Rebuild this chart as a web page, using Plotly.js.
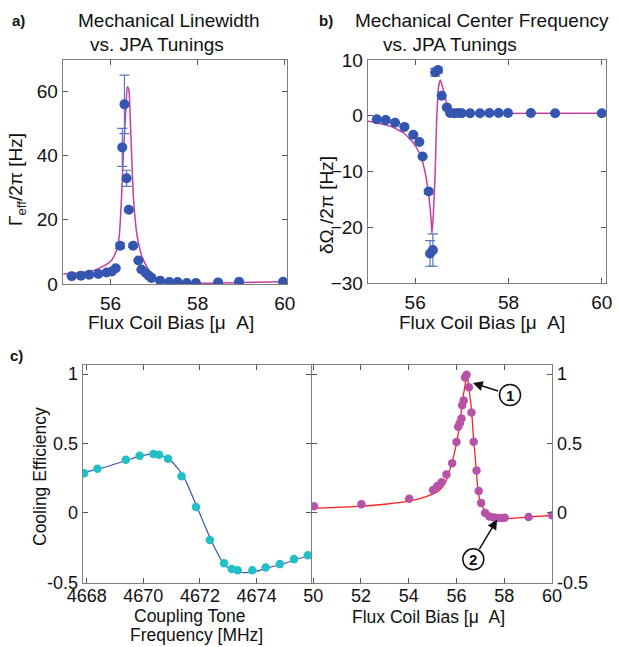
<!DOCTYPE html>
<html><head><meta charset="utf-8">
<script src="https://cdn.plot.ly/plotly-3.0.1.min.js"></script>
<style>html,body{margin:0;padding:0;background:#fff}#plot{width:618px;height:647px}</style>
</head><body><div id="plot"></div>
<script>
// ---- panel a: mechanical linewidth ----
const aX = [55.11,55.32,55.51,55.72,55.91,56.03,56.12,56.22,56.27,56.32,56.37,56.42,56.52,56.64,56.71,56.81,56.88,56.94,57.14,57.35,57.54,57.75,57.96,58.47,58.95,59.96];
const aY = [2.4,2.6,2.9,3.1,3.6,3.9,4.9,11.9,42.5,55.9,32.9,23.1,11.9,7.3,4.5,3.4,2.6,1.9,1.0,0.6,0.6,0.3,0.3,0.5,0.7,0.7];
const aErr = [0,0,0,0,0,0,0,0.8,5.9,9.1,2.5,0.5,0.5,0,0,0,0,0,0,0,0,0,0,0,0,0];
const aFitX = [54.92,55.2,55.53,55.83,56.03,56.14,56.2,56.25,56.29,56.33,56.36,56.385,56.41,56.43,56.46,56.49,56.52,56.56,56.61,56.66,56.72,56.79,56.88,56.98,57.1,57.29,57.6,58.0,58.5,59.0,60.05];
const aFitY = [3.1,3.4,3.9,5.5,7.5,10.6,14.8,26,38.6,49,56,61.4,61.0,59.4,48.9,38.6,28.3,21,15,11.7,8.6,6.5,4.2,2.4,1.4,0.5,0.25,0.2,0.3,0.45,0.7];

// ---- panel b: mechanical center frequency ----
const bX = [55.18,55.37,55.57,55.77,55.96,56.09,56.16,56.29,56.32,56.38,56.43,56.49,56.57,56.68,56.75,56.84,56.93,57.0,57.18,57.39,57.59,57.79,57.99,58.48,59.0,60.0];
const bY = [-0.65,-0.75,-1.25,-2.0,-3.4,-4.7,-7.3,-13.6,-24.7,-24.1,7.8,8.2,3.6,1.5,0.5,0.45,0.5,0.45,0.45,0.45,0.5,0.5,0.5,0.5,0.45,0.45];
const bErr = [0,0,0,0,0,0,0,0.4,2.3,2.9,0.7,0.5,0,0,0,0,0,0,0,0,0,0,0,0,0,0];
const bFitX = [54.99,55.2,55.46,55.75,55.96,56.11,56.21,56.29,56.34,56.36,56.39,56.43,56.46,56.5,56.54,56.61,56.71,56.8,56.9,57.1,57.5,58,59,60.09];
const bFitY = [-1.0,-1.3,-1.86,-3.05,-4.86,-7.0,-10,-14.2,-18.4,-21.1,-17.8,-10,-1.0,5.1,6.4,4.5,1.2,0.6,0.45,0.4,0.4,0.4,0.45,0.45];

// ---- panel c (left): cooling efficiency vs coupling tone frequency ----
const cFreq = [4667.91,4668.38,4669.38,4669.87,4670.36,4670.56,4670.87,4671.35,4671.86,4672.35,4672.85,4673.12,4673.33,4673.85,4674.32,4674.82,4675.32,4675.81];
const cEffF = [0.286,0.317,0.383,0.412,0.424,0.419,0.39,0.264,0.043,-0.195,-0.362,-0.405,-0.414,-0.414,-0.393,-0.369,-0.333,-0.305];
const cFitFreq = [4667.86,4668.4,4669.4,4669.9,4670.4,4670.7,4671.0,4671.4,4671.9,4672.4,4672.85,4673.2,4673.6,4674.0,4674.4,4674.9,4675.4,4675.9];
const cFitEffF = [0.29,0.315,0.378,0.41,0.425,0.41,0.37,0.27,0.04,-0.2,-0.37,-0.42,-0.43,-0.42,-0.395,-0.37,-0.335,-0.305];

// ---- panel c (right): cooling efficiency vs flux coil bias ----
const cBias = [50.03,52.02,54.02,55.02,55.2,55.38,55.58,55.82,56.0,56.07,56.14,56.21,56.24,56.3,56.36,56.42,56.52,56.63,56.72,56.84,56.93,57.03,57.2,57.38,57.56,57.72,57.87,58.02,59.02,60.0];
const cEffB = [0.048,0.063,0.101,0.164,0.193,0.22,0.277,0.357,0.51,0.62,0.645,0.68,0.775,0.81,0.975,0.995,0.905,0.723,0.513,0.306,0.157,0.072,0.0,-0.026,-0.034,-0.037,-0.037,-0.035,-0.03,-0.017];
const cFitBias = [49.95,51,52,53,54,54.5,55,55.3,55.55,55.72,55.87,56.0,56.1,56.21,56.3,56.35,56.42,56.48,56.55,56.63,56.7,56.77,56.84,56.9,57.0,57.18,57.4,57.67,58.1,59,60];
const cFitEffB = [0.033,0.04,0.048,0.062,0.085,0.105,0.135,0.165,0.225,0.31,0.4,0.5,0.6,0.742,0.86,0.91,0.983,0.95,0.86,0.742,0.57,0.43,0.28,0.164,0.08,0.02,-0.02,-0.04,-0.04,-0.03,-0.017];

const FONT = 'Liberation Sans, Arial, Helvetica, sans-serif';
const BLUE = '#3556B0', ERRC = '#5577c4', MAG = '#c2409f';

const traces = [
  {x:aFitX,y:aFitY,xaxis:'x',yaxis:'y',mode:'lines',line:{color:MAG,width:1.5,shape:'spline',smoothing:0.5}},
  {x:aX,y:aY,xaxis:'x',yaxis:'y',mode:'markers',marker:{color:BLUE,size:10},
   error_y:{type:'data',array:aErr,visible:true,color:ERRC,thickness:1.2,width:5}},
  {x:bFitX,y:bFitY,xaxis:'x2',yaxis:'y2',mode:'lines',line:{color:MAG,width:1.5,shape:'spline',smoothing:0.5}},
  {x:bX,y:bY,xaxis:'x2',yaxis:'y2',mode:'markers',marker:{color:BLUE,size:10},
   error_y:{type:'data',array:bErr,visible:true,color:ERRC,thickness:1.2,width:5}},
  {x:cFitFreq,y:cFitEffF,xaxis:'x3',yaxis:'y3',mode:'lines',line:{color:'#3a55b5',width:1.2,shape:'spline',smoothing:0.6}},
  {x:cFreq,y:cEffF,xaxis:'x3',yaxis:'y3',mode:'markers',marker:{color:'#22bfc6',size:8.5}},
  {x:cFitBias,y:cFitEffB,xaxis:'x4',yaxis:'y4',mode:'lines',line:{color:'#ff2020',width:1.3,shape:'spline',smoothing:0.5}},
  {x:cBias,y:cEffB,xaxis:'x4',yaxis:'y4',mode:'markers',marker:{color:'#b653a9',size:8.5}}
];

const W = 618, H = 647;
const px = v => v / W, py = v => 1 - v / H;
const axBase = {showline:true,mirror:'ticks',linecolor:'#7f7f7f',linewidth:1.3,ticks:'inside',ticklen:5,
  tickcolor:'#555',tickwidth:1,showgrid:false,zeroline:false,color:'#111'};
const abTick = {family:FONT,size:19,color:'#111'};
const cTick = {family:FONT,size:18,color:'#111'};

const layout = {
  width:W,height:H,margin:{l:0,r:0,t:0,b:0},paper_bgcolor:'#fff',plot_bgcolor:'#fff',
  showlegend:false,hovermode:false,font:{family:FONT,color:'#111'},
  xaxis:Object.assign({},axBase,{domain:[px(63),px(287)],range:[54.91,60.05],tickvals:[56,58,60],tickfont:abTick,anchor:'y',ticklabelstandoff:2}),
  yaxis:Object.assign({},axBase,{domain:[py(284),py(60)],range:[0,69.7],tickvals:[0,20,40,60],tickfont:abTick,anchor:'x'}),
  xaxis2:Object.assign({},axBase,{domain:[px(368),px(606)],range:[54.99,60.09],tickvals:[56,58,60],tickfont:abTick,anchor:'y2',ticklabelstandoff:2}),
  yaxis2:Object.assign({},axBase,{domain:[py(283),py(60)],range:[-30,10],tickvals:[-30,-20,-10,0,10],tickfont:abTick,anchor:'x2'}),
  xaxis3:Object.assign({},axBase,{domain:[px(83),px(311)],range:[4667.87,4675.92],tickvals:[4668,4670,4672,4674],tickfont:cTick,anchor:'y3',ticklabelstandoff:-4}),
  yaxis3:Object.assign({},axBase,{domain:[py(583),py(365)],range:[-0.505,1.065],tickvals:[-0.5,0,0.5,1],ticktext:['-0.5','0','0.5','1'],tickfont:cTick,anchor:'x3'}),
  xaxis4:Object.assign({},axBase,{domain:[px(312),px(552)],range:[49.95,60],tickvals:[50,52,54,56,58,60],tickfont:cTick,anchor:'y4',ticklabelstandoff:-4}),
  yaxis4:Object.assign({},axBase,{domain:[py(583),py(365)],range:[-0.505,1.065],tickvals:[-0.5,0,0.5,1],ticktext:['-0.5','0','0.5','1'],tickfont:cTick,anchor:'x4',side:'right'}),
  shapes:[
    {type:'circle',xref:'paper',yref:'paper',x0:px(499.5),x1:px(520.5),y0:py(405.5),y1:py(384.5),line:{color:'#111',width:1.5}},
    {type:'circle',xref:'paper',yref:'paper',x0:px(462.8),x1:px(483.8),y0:py(569.8),y1:py(548.8),line:{color:'#111',width:1.5}}
  ],
  annotations:[]
};

function txt(text,x,y,size,opts){
  return Object.assign({xref:'paper',yref:'paper',x:px(x),y:py(y),text:text,showarrow:false,
    xanchor:'center',yanchor:'middle',font:{family:FONT,size:size,color:'#111'}},opts||{});
}
const A = layout.annotations;
A.push(txt('<b>a)</b>',18,21,15));
A.push(txt('<b>b)</b>',326,21,15));
A.push(txt('<b>c)</b>',16,355,15));
A.push(txt('Mechanical Linewidth',169,21,19));
A.push(txt('vs. JPA Tunings',157,45,19));
A.push(txt('Mechanical Center Frequency',482,20,19));
A.push(txt('vs. JPA Tunings',450,45,19));
A.push(txt('Flux Coil Bias [μ\u00a0 A]',171,322,19));
A.push(txt('Flux Coil Bias [μ\u00a0 A]',482,322,19));
A.push(txt('Γ<sub>eff</sub>/2π [Hz]',17,180,19,{textangle:-90}));
A.push(txt('δΩ /2π [Hz]',326,205,19,{textangle:-90}));
A.push(txt('Cooling Efficiency',40,477,17.5,{textangle:-90}));
A.push(txt('Coupling Tone',190,616,17.5));
A.push(txt('Frequency [MHz]',196,635,17.5));
A.push(txt('Flux Coil Bias [μ\u00a0 A]',428,617,17.5));
A.push(txt('<b>1</b>',510,395,15));
A.push(txt('<b>2</b>',473.3,559.3,15));
A.push({xref:'x4',yref:'y4',x:56.69,y:0.935,ax:26.7,ay:8.5,text:'',showarrow:true,arrowhead:2,arrowsize:1.3,arrowwidth:1.5,arrowcolor:'#111'});
A.push({xref:'x4',yref:'y4',x:57.7,y:-0.048,ax:-18.6,ay:31,text:'',showarrow:true,arrowhead:2,arrowsize:1.3,arrowwidth:1.5,arrowcolor:'#111'});

Plotly.newPlot('plot',traces,layout,{staticPlot:true,displayModeBar:false});
</script></body></html>
